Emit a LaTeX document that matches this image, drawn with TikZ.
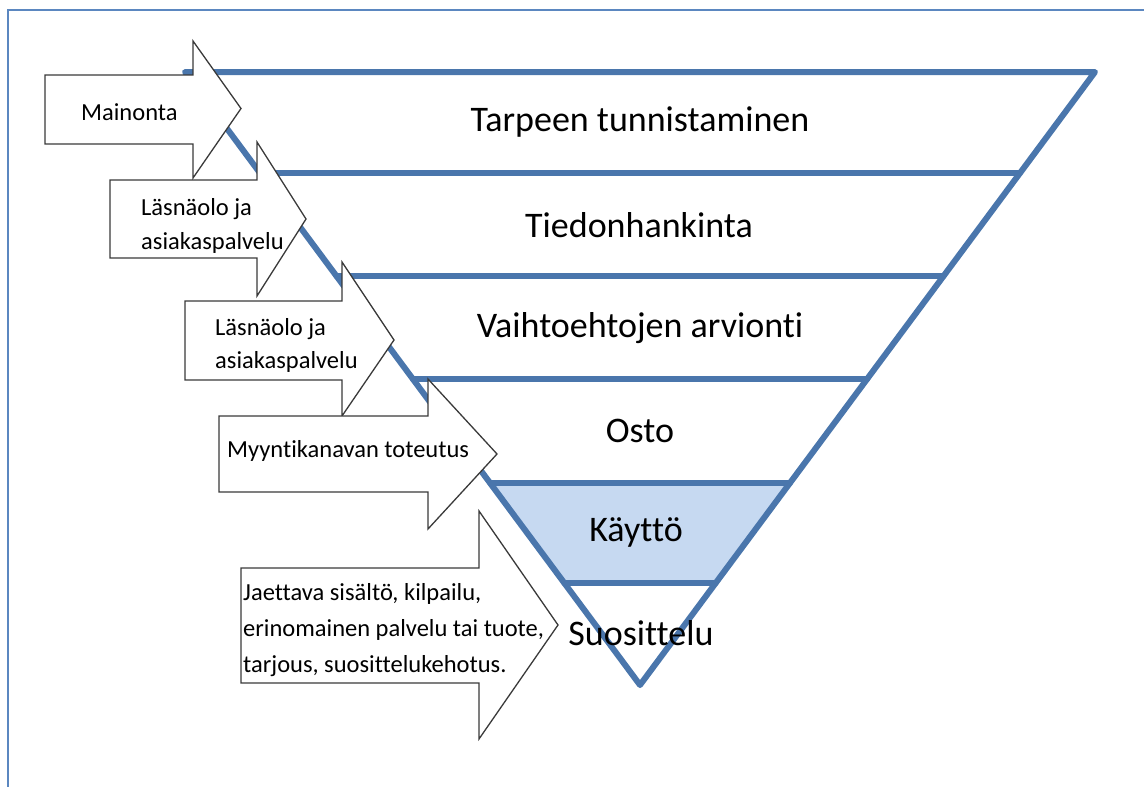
\documentclass[tikz,border=0pt]{standalone}
\usepackage{fontspec}
\setmainfont{Carlito}[Ligatures={NoCommon}]
\usetikzlibrary{calc}
\definecolor{funnelblue}{HTML}{4A76AC}
\definecolor{framblue}{HTML}{5B87C0}
\definecolor{usefill}{HTML}{C6D9F1}
\definecolor{arrowline}{HTML}{3A3A3A}
\tikzset{
  funnel/.style={draw=funnelblue,line width=6pt,line join=round,line cap=round},
  blockarrow/.style={draw=arrowline,fill=white,line width=1.3pt,line join=miter},
  biglabel/.style={font=\fontsize{36}{40}\selectfont,inner sep=0pt},
  smalllabel/.style={font=\fontsize{24.5}{30}\selectfont,inner sep=0pt,anchor=base west},
}
\begin{document}
\begin{tikzpicture}[x=1pt,y=-1pt]
\useasboundingbox (0,0) rectangle (1144,787);
% frame
\draw[framblue,line width=1.5pt] (8,787) -- (8,10) -- (1144,10);
% funnel corners
\coordinate (A) at (185,72);
\coordinate (B) at (1095,72);
\coordinate (C) at (640,685);
% Kayttö band fill
\fill[usefill] (490.1,483) -- (789.9,483) -- (715.7,583) -- (564.3,583) -- cycle;
% band lines
\draw[funnel] (260,173) -- (1020,173);
\draw[funnel] (336.4,276) -- (943.6,276);
\draw[funnel] (412.9,379) -- (867.1,379);
\draw[funnel] (490.1,483) -- (789.9,483);
\draw[funnel] (564.3,583) -- (715.7,583);
\draw[funnel] (A) -- (B) -- (C) -- cycle;
% funnel labels
\node[biglabel] (l1) at (640,122) {Tarpeen tunnistaminen};
\node[biglabel] (l2) at (639,225) {Tiedonhankinta};
\node[biglabel] (l3) at (640,328) {Vaihtoehtojen arvionti};
\node[biglabel] (l4) at (640,431) {Osto};
\node[biglabel] (l5) at (636,532) {Käyttö};
\node[biglabel] (l6) at (641,633) {Suosittelu};
% block arrows
\draw[blockarrow] (45,75) -- (193,75) -- (193,41) -- (241,108.5) -- (193,178) -- (193,144) -- (45,144) -- cycle;
\node[smalllabel] (a1) at (81,120) {Mainonta};
\draw[blockarrow] (110,180) -- (257,180) -- (257,142) -- (306,219) -- (257,296) -- (257,258) -- (110,258) -- cycle;
\node[smalllabel] (a2a) at (141,215) {Läsnäolo ja};
\node[smalllabel] (a2b) at (141,249) {asiakaspalvelu};
\draw[blockarrow] (185,301) -- (342,301) -- (342,262) -- (394,340) -- (342,416) -- (342,380) -- (185,380) -- cycle;
\node[smalllabel] (a3a) at (215,335) {Läsnäolo ja};
\node[smalllabel] (a3b) at (215,368) {asiakaspalvelu};
\draw[blockarrow] (219,416) -- (428,416) -- (428,379) -- (497,454) -- (428,529) -- (428,492) -- (219,492) -- cycle;
\node[smalllabel] (a4) at (227,457) {Myyntikanavan toteutus};
\draw[blockarrow] (241,568) -- (479,568) -- (479,511) -- (558,625) -- (479,739) -- (479,683) -- (241,683) -- cycle;
\node[smalllabel] (a5a) at (243,600) {Jaettava sisältö, kilpailu,};
\node[smalllabel] (a5b) at (243,636) {erinomainen palvelu tai tuote,};
\node[smalllabel] (a5c) at (243,672) {tarjous, suosittelukehotus.};
\end{tikzpicture}
\end{document}
